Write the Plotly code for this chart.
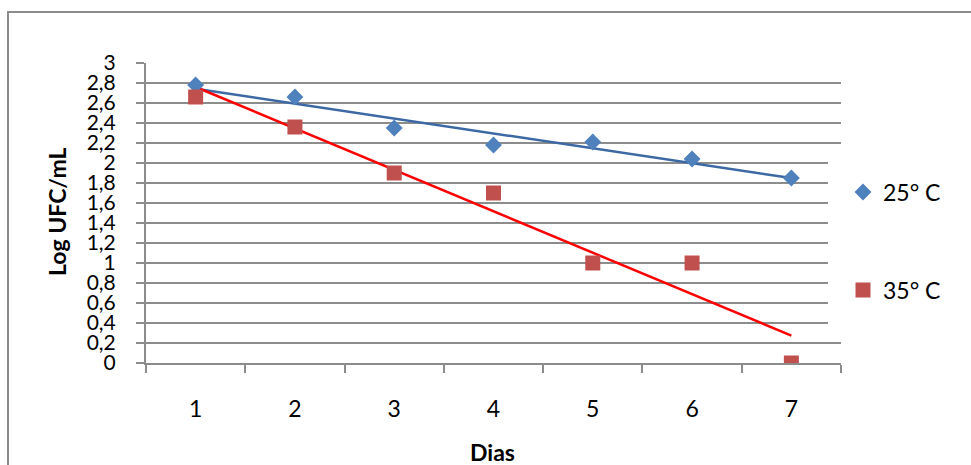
import numpy as np
import plotly.graph_objects as go

# ---- data ----
dias = ["1", "2", "3", "4", "5", "6", "7"]
dias_num = [1, 2, 3, 4, 5, 6, 7]
serie_25 = [2.78, 2.66, 2.35, 2.18, 2.21, 2.04, 1.85]
serie_35 = [2.66, 2.36, 1.90, 1.70, 1.00, 1.00, 0.00]
y_tick_vals = [0, 0.2, 0.4, 0.6, 0.8, 1.0, 1.2, 1.4, 1.6, 1.8, 2.0, 2.2, 2.4, 2.6, 2.8, 3.0]
y_tick_text = ["0", "0,2", "0,4", "0,6", "0,8", "1", "1,2", "1,4", "1,6", "1,8",
               "2", "2,2", "2,4", "2,6", "2,8", "3"]
nome_25 = "25° C"
nome_35 = "35° C"

# linear trendlines (least squares, as Excel)
p25 = np.polyfit(dias_num, serie_25, 1)
p35 = np.polyfit(dias_num, serie_35, 1)
trend_x = [dias[0], dias[-1]]
trend_25 = [float(np.polyval(p25, dias_num[0])), float(np.polyval(p25, dias_num[-1]))]
trend_35 = [float(np.polyval(p35, dias_num[0])), float(np.polyval(p35, dias_num[-1]))]

FONT = "Lato, Carlito, Calibri, sans-serif"
GRID = "#8c8c8c"

fig = go.Figure()
fig.add_trace(go.Scatter(x=trend_x, y=trend_25, mode="lines",
                         line=dict(color="#3c68a4", width=2.5),
                         showlegend=False, hoverinfo="skip"))
fig.add_trace(go.Scatter(x=trend_x, y=trend_35, mode="lines",
                         line=dict(color="#ff0000", width=2.5),
                         showlegend=False, hoverinfo="skip"))
fig.add_trace(go.Scatter(x=dias, y=serie_25, mode="markers", name=nome_25,
                         marker=dict(symbol="diamond", size=13, color="#4f81bd"),
                         legend="legend"))
fig.add_trace(go.Scatter(x=dias, y=serie_35, mode="markers", name=nome_35,
                         marker=dict(symbol="square", size=15, color="#c0504d"),
                         legend="legend2"))

W, H = 971, 465
L, R, T, B = 146, 130, 63, 102
pw, ph = W - L - R, H - T - B

def px_x(px):
    return (px - L) / pw

def px_y(py):
    return (H - B - py) / ph

fig.update_layout(
    width=W, height=H,
    margin=dict(l=L, r=R, t=T, b=B, autoexpand=False),
    paper_bgcolor="white", plot_bgcolor="white",
    font=dict(family=FONT, size=21, color="black"),
    xaxis=dict(type="category", categoryorder="array", categoryarray=dias,
               tickson="boundaries", ticks="outside", ticklen=8,
               tickwidth=1.5, tickcolor=GRID, showline=True, linecolor=GRID,
               linewidth=2, showgrid=False, range=[-0.5, 6.5],
               ticklabelstandoff=24, tickfont=dict(size=23)),
    yaxis=dict(range=[0, 3], tickvals=y_tick_vals, ticktext=y_tick_text,
               ticks="outside", ticklen=8, tickwidth=2, tickcolor=GRID,
               showgrid=True, gridcolor=GRID, gridwidth=2,
               showline=True, linecolor=GRID, linewidth=2, zeroline=False,
               ticklabelstandoff=16, tickfont=dict(size=21)),
    legend=dict(x=px_x(843), y=px_y(192), xanchor="left", yanchor="middle",
                bgcolor="rgba(0,0,0,0)", font=dict(size=23), itemsizing="trace"),
    legend2=dict(x=px_x(843), y=px_y(290), xanchor="left", yanchor="middle",
                 bgcolor="rgba(0,0,0,0)", font=dict(size=23), itemsizing="trace"),
    showlegend=True,
)

# white legend area covering the right end of some gridlines
fig.add_shape(type="rect", xref="paper", yref="paper",
              x0=px_x(828), x1=px_x(846), y0=px_y(341), y1=px_y(146),
              fillcolor="white", line=dict(width=0), layer="above")
# outer chart border
fig.add_shape(type="rect", xref="paper", yref="paper",
              x0=px_x(8), x1=px_x(1100), y0=px_y(600), y1=px_y(12),
              fillcolor="rgba(0,0,0,0)", line=dict(color="#8c8c8c", width=2),
              layer="above")

fig.add_annotation(text="<b>Log UFC/mL</b>", xref="paper", yref="paper",
                   x=px_x(57), y=px_y(212), xanchor="center", yanchor="middle",
                   textangle=-90, showarrow=False, font=dict(size=23))
fig.add_annotation(text="<b>Dias</b>", xref="paper", yref="paper",
                   x=px_x(492), y=px_y(452), xanchor="center", yanchor="middle",
                   showarrow=False, font=dict(size=23))

fig.write_html("out.html", config={"displayModeBar": False},
               post_script="document.body.style.margin='0';document.body.style.overflow='hidden';")
